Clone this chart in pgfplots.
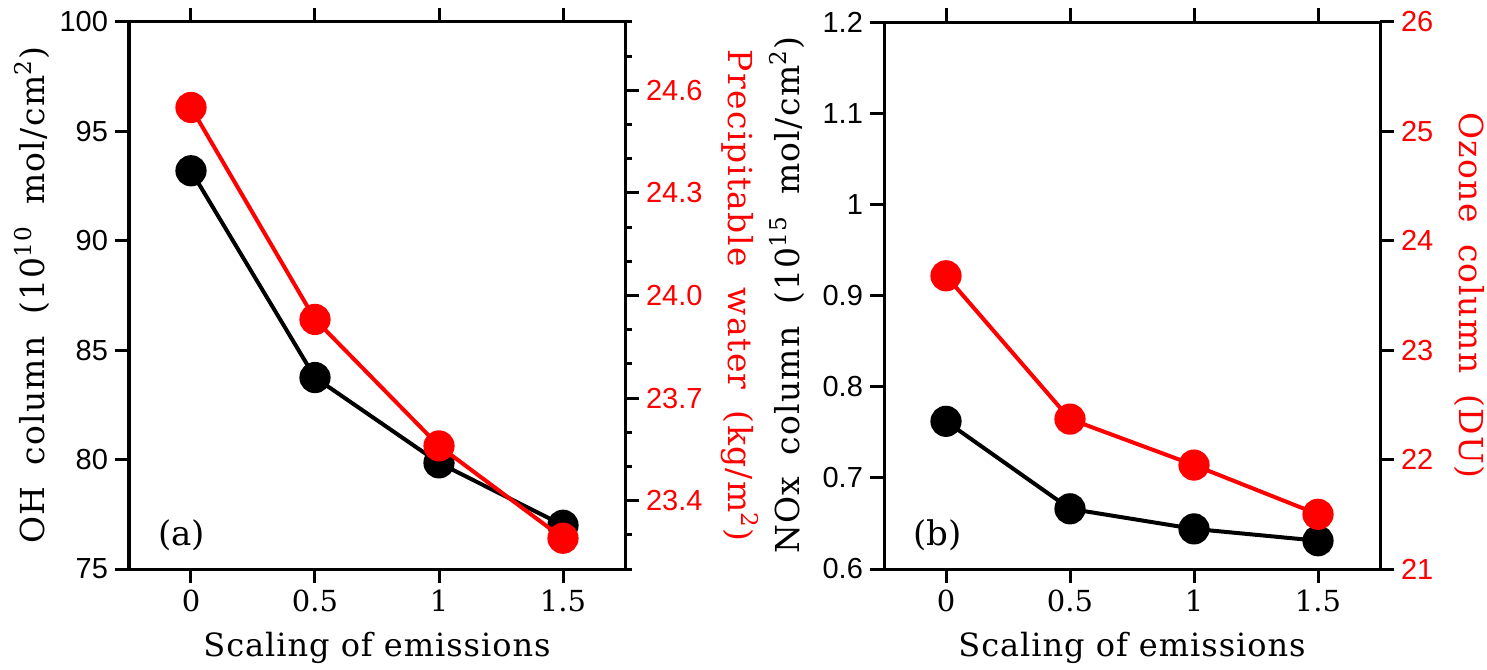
\documentclass[border=0pt]{standalone}
\usepackage{fontspec}
\setmainfont{DejaVu Serif}
\newfontfamily\tickfont{Liberation Sans}
\newfontfamily\xlblfam{DejaVu Serif}[LetterSpace=3]
\newfontfamily\ylblfam{DejaVu Serif}[LetterSpace=4, WordSpace=1.8]
\usepackage{pgfplots}
\pgfplotsset{compat=1.18}
\definecolor{myred}{RGB}{255,0,0}
\newcommand\xlblfont{\xlblfam\fontsize{16}{16}\selectfont}
\newcommand\ylblfont{\ylblfam\fontsize{16.5}{16.5}\selectfont}
\pgfplotsset{
  base/.style={
    scale only axis, width=248pt, height=273.5pt,
    xmin=-0.25, xmax=1.75,
    tick align=outside,
    major tick length=7pt, minor tick length=3.5pt,
    every tick/.style={black, line width=1.5pt},
    axis line style={line width=1.5pt},
    /pgf/number format/assume math mode=true,
    yticklabel style={font=\tickfont\fontsize{14.5}{14.5}\selectfont},
    xticklabel style={font=\rmfamily\fontsize{14.5}{14.5}\selectfont},
    xtick={0,0.5,1,1.5}, xticklabels={0,0.5,1,1.5},
  },
  leftax/.style={base, ytick pos=left, xtick pos=both,
    every axis y label/.style={at={(axis description cs:-0.196,0.5)}, anchor=center, rotate=90, font=\ylblfont},
    every axis x label/.style={at={(axis description cs:0.5,-0.144)}, anchor=center, font=\xlblfont},
  },
  rightax/.style={base, hide x axis, ytick pos=right, yticklabel pos=right,
    yticklabel style={text=myred},
    every axis y label/.style={at={(axis description cs:#1,0.5)}, anchor=center, rotate=-90, text=myred, font=\ylblfont},
  },
  blk/.style={black, line width=2pt, mark=*, mark size=6.8pt, mark options={solid, fill=black}},
  rd/.style={myred, line width=2pt, mark=*, mark size=6.8pt, mark options={solid, fill=myred}},
}
\begin{document}
\begin{tikzpicture}
\useasboundingbox (-64.5pt,-50pt) rectangle (679pt,284.5pt);
% Panel (a)
\begin{axis}[leftax, ymin=75, ymax=100, ytick={75,80,85,90,95,100},
  ylabel={OH column (10\textsuperscript{10} mol/cm\textsuperscript{2})},
  xlabel={Scaling of emissions}]
\addplot[blk] coordinates {(0,93.2) (0.5,83.75) (1,79.85) (1.5,77.0)};
\node[anchor=south west, font=\rmfamily\fontsize{17}{17}\selectfont] at (axis description cs:0.045,0.02) {(a)};
\end{axis}
\begin{axis}[rightax=1.232, ymin=23.2, ymax=24.8,
  ytick={23.4,23.7,24.0,24.3,24.6},
  minor ytick={23.2,23.3,23.5,23.6,23.8,23.9,24.1,24.2,24.4,24.5,24.7,24.8},
  yticklabel style={/pgf/number format/.cd, fixed, fixed zerofill, precision=1},
  ylabel={Precipitable water (kg/m\textsuperscript{2})}]
\addplot[rd] coordinates {(0,24.55) (0.5,23.93) (1,23.56) (1.5,23.29)};
\end{axis}
% Panel (b)
\begin{axis}[leftax, at={(377.5pt,0pt)}, ymin=0.6, ymax=1.2,
  ytick={0.6,0.7,0.8,0.9,1,1.1,1.2}, yticklabels={0.6,0.7,0.8,0.9,1,1.1,1.2},
  ylabel={NOx column (10\textsuperscript{15} mol/cm\textsuperscript{2})},
  xlabel={Scaling of emissions}]
\addplot[blk] coordinates {(0,0.762) (0.5,0.666) (1,0.644) (1.5,0.631)};
\node[anchor=south west, font=\rmfamily\fontsize{17}{17}\selectfont] at (axis description cs:0.045,0.02) {(b)};
\end{axis}
\begin{axis}[rightax=1.18, at={(377.5pt,0pt)}, ymin=21, ymax=26,
  ytick={21,22,23,24,25,26},
  ylabel={Ozone column (DU)}]
\addplot[rd] coordinates {(0,23.68) (0.5,22.37) (1,21.95) (1.5,21.5)};
\end{axis}
\end{tikzpicture}
\end{document}
